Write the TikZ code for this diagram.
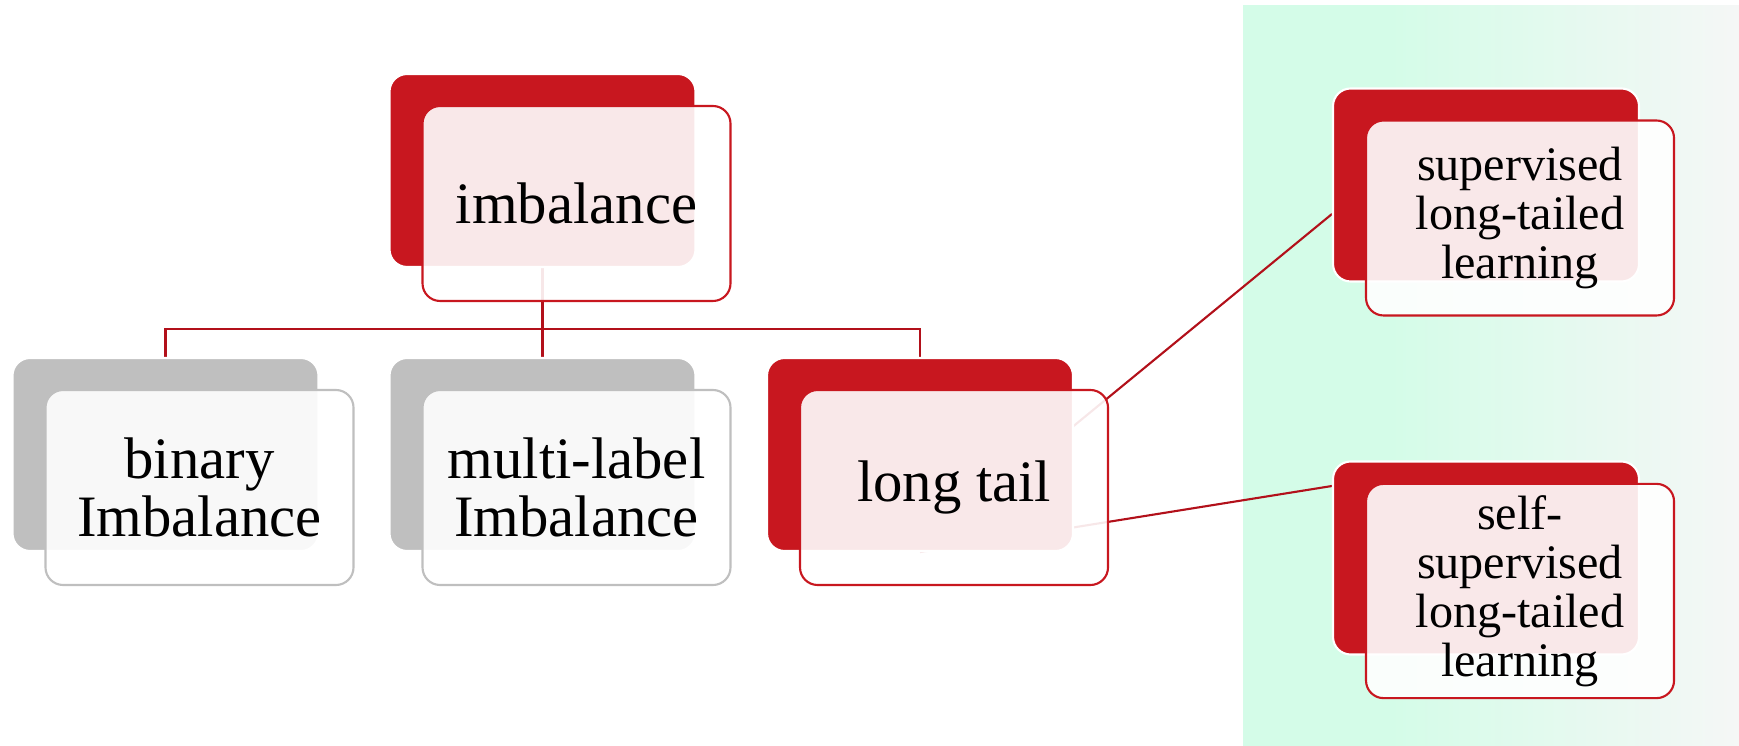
\documentclass[tikz,border=0pt]{standalone}
\usepackage{fontspec}
\setmainfont{Liberation Serif}
\usepackage{tikz}
\usetikzlibrary{backgrounds}

\definecolor{hired}{RGB}{200,23,31}
\definecolor{linkred}{RGB}{178,16,26}
\definecolor{softgrey}{RGB}{191,191,191}
\definecolor{mint}{RGB}{212,252,232}
\definecolor{fadegrey}{RGB}{245,247,246}

% mint on the left third, fading to grey on the right
% (tikz maps the path onto the 25bp--75bp part of the shading)
\pgfdeclarehorizontalshading{panelfade}{100bp}{color(0bp)=(mint); color(39.8bp)=(mint); color(75bp)=(fadegrey); color(100bp)=(fadegrey)}

\pgfdeclarelayer{panel}
\pgfsetlayers{panel,background,main}

\begin{document}
\begin{tikzpicture}[
    bigtext/.style={font=\fontsize{16.7pt}{16.5pt}\selectfont},
    smalltext/.style={font=\fontsize{13.7pt}{13.9pt}\selectfont},
    redback/.style={draw=white, fill=hired, rounded corners=5pt, minimum width=3.06cm, minimum height=1.93cm, line width=0.6pt},
    redfront/.style={draw=hired, fill=white, fill opacity=0.9, text opacity=1, rounded corners=5pt, minimum width=3.08cm, minimum height=1.95cm, align=center, line width=0.6pt},
    greyback/.style={draw=white, fill=softgrey, rounded corners=5pt, minimum width=3.06cm, minimum height=1.93cm, line width=0.6pt},
    greyfront/.style={draw=softgrey, fill=white, fill opacity=0.9, text opacity=1, rounded corners=5pt, minimum width=3.08cm, minimum height=1.95cm, align=center, line width=0.6pt},
    link/.style={draw=linkred, line width=0.6pt}
]
\useasboundingbox (0,0) rectangle (17.39,7.45);

% ---- Root ----
\node[redback] (imb) at (5.425,5.745) {};
\node[redfront, bigtext] (imbf) at ([xshift=0.34cm,yshift=-0.33cm]imb.center) {imbalance};

% ---- Second level ----
\node[greyback] (bin) at (1.655,2.905) {};
\node[greyfront, bigtext] (binf) at ([xshift=0.34cm,yshift=-0.33cm]bin.center) {binary\\Imbalance};

\node[greyback] (mul) at (5.425,2.905) {};
\node[greyfront, bigtext] (mulf) at ([xshift=0.34cm,yshift=-0.33cm]mul.center) {multi-label\\Imbalance};

\node[redback] (lt) at (9.20,2.905) {};
\node[redfront, bigtext] (ltf) at ([xshift=0.34cm,yshift=-0.33cm]lt.center) {long tail};

% ---- Long-tail branches ----
\node[redback] (sup) at (14.86,5.60) {};
\node[redfront, smalltext] (supf) at ([xshift=0.34cm,yshift=-0.33cm]sup.center) {supervised\\long-tailed\\learning};

\node[redback] (self) at (14.86,1.87) {};
\node[redfront, smalltext] (selff) at ([xshift=0.34cm,yshift=-0.33cm]self.center) {self-\\supervised\\long-tailed\\learning};

% ---- Shaded panel behind the branches ----
\begin{pgfonlayer}{panel}
  \shade[shading=panelfade] (12.43,0) rectangle (17.39,7.39);
\end{pgfonlayer}

% ---- Connectors ----
\begin{pgfonlayer}{background}
  \coordinate (fork) at (5.425,4.16);
  \draw[link] (imb.south) -- (fork);
  \draw[link] (fork) -| (bin.north);
  \draw[link] (fork) -- (mul.north);
  \draw[link] (fork) -| (lt.north);
  \draw[link] (lt.south) -- ([yshift=-0.29cm]sup.west);
  \draw[link] (lt.south) -- ([yshift=0.72cm]self.west);
\end{pgfonlayer}

\end{tikzpicture}
\end{document}
